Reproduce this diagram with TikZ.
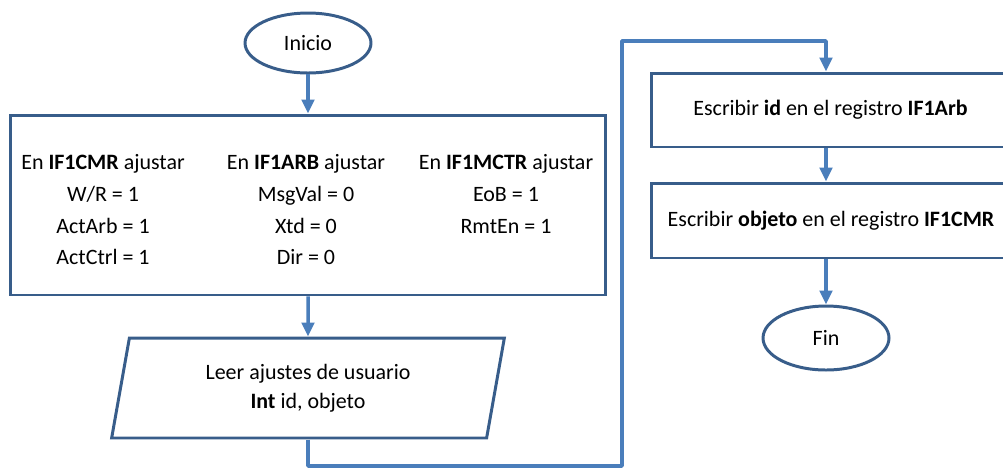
\documentclass[tikz,border=0pt]{standalone}
\usepackage{fontspec}
\setmainfont{Carlito}
\usetikzlibrary{shapes.geometric,arrows.meta}

\definecolor{borde}{RGB}{56,93,138}
\definecolor{flecha}{RGB}{74,126,187}

\tikzset{
  caja/.style={draw=borde, line width=1.7pt, rectangle, inner sep=0pt, font=\fontsize{12.5}{18.1}\selectfont},
  terminal/.style={draw=borde, line width=1.7pt, ellipse, minimum width=2.52cm, minimum height=1.2cm, inner sep=0pt, font=\fontsize{12.5}{18.1}\selectfont},
  entrada/.style={draw=borde, line width=1.7pt, trapezium, trapezium left angle=78, trapezium right angle=102, trapezium stretches=true, minimum width=7.86cm, minimum height=2cm, inner sep=0pt, align=center, font=\fontsize{12.5}{16.4}\selectfont},
  flujo/.style={draw=flecha, line width=2pt, line join=round, ->},
  columna/.style={anchor=north, align=center, inner sep=0pt, font=\fontsize{12.5}{18.1}\selectfont}
}

\begin{document}
\begin{tikzpicture}[x=0.02cm, y=-0.02cm, >={Triangle[width=0.25cm,length=0.28cm]}]
    % Units are pixels of the original drawing (y grows downwards)
    \useasboundingbox (0,0) rectangle (1003,468);

    % --- LEFT COLUMN ---
    \node[terminal] (inicio) at (308,43) {Inicio};

    % settings box with three register columns
    \node[caja, minimum width=11.92cm, minimum height=3.6cm] (ajustes) at (308,205) {};
    \node[columna] (cmr) at (103,154) {En \textbf{IF1CMR} ajustar\\ W/R = 1\\ ActArb = 1\\ ActCtrl = 1};
    \node[columna] (arb) at (306,154) {En \textbf{IF1ARB} ajustar\\ MsgVal = 0\\ Xtd = 0\\ Dir = 0};
    \node[columna] (mctr) at (506,154) {En \textbf{IF1MCTR} ajustar\\ EoB = 1\\ RmtEn = 1};

    % user input
    \node[entrada] (leer) at (308,388) {Leer ajustes de usuario\\ \textbf{Int} id, objeto};

    % --- RIGHT COLUMN ---
    \node[caja, minimum width=7.18cm, minimum height=1.48cm] (escid) at (830.5,110) {Escribir \textbf{id} en el registro \textbf{IF1Arb}};
    \node[caja, minimum width=7.18cm, minimum height=1.5cm] (escobj) at (831,220.5) {Escribir \textbf{objeto} en el registro \textbf{IF1CMR}};
    \node[terminal, minimum height=1.28cm] (fin) at (826,338) {Fin};

    % --- CONNECTORS ---
    \coordinate (bajo) at (622,466); % bottom corner of the jump
    \coordinate (alto) at (826,41);  % top corner of the jump

    \draw[flujo] (inicio) -- (ajustes);
    \draw[flujo] (ajustes) -- (leer);
    \draw[flujo] (leer.south) |- (bajo) |- (alto) -- (alto |- escid.north);
    \draw[flujo] (escid.south -| fin) -- (escobj.north -| fin);
    \draw[flujo] (escobj.south -| fin) -- (fin);
\end{tikzpicture}
\end{document}
